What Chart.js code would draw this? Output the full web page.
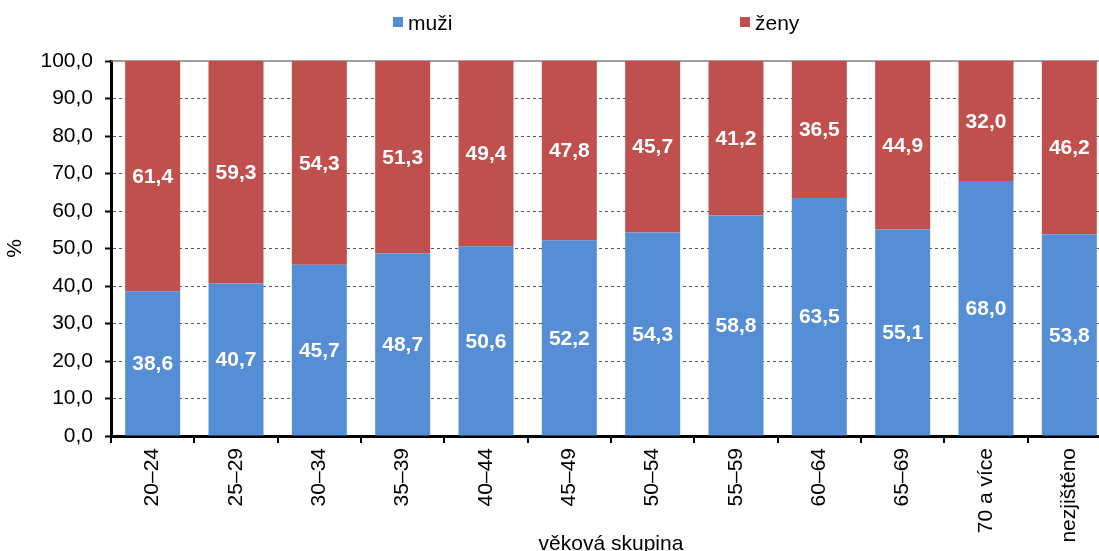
<!DOCTYPE html>
<html>
<head>
<meta charset="utf-8">
<script src="https://cdn.jsdelivr.net/npm/chart.js@4"></script>
<style>
  html, body { margin: 0; background: #fff; overflow: hidden; }
  /* graf je v originále vpravo oříznutý */
  #wrap { width: 1111px; height: 551px; position: relative; }
</style>
</head>
<body>
<div id="wrap"><canvas id="myChart"></canvas></div>
<script>
const categories = ['20–24', '25–29', '30–34', '35–39', '40–44', '45–49', '50–54', '55–59', '60–64', '65–69', '70 a více', 'nezjištěno'];
const muzi = [38.6, 40.7, 45.7, 48.7, 50.6, 52.2, 54.3, 58.8, 63.5, 55.1, 68.0, 53.8];
const zeny = [61.4, 59.3, 54.3, 51.3, 49.4, 47.8, 45.7, 41.2, 36.5, 44.9, 32.0, 46.2];
const yTicks = [0, 10, 20, 30, 40, 50, 60, 70, 80, 90, 100];

const blue = '#558ED5';
const red = '#C0504D';
const fontFam = '"Liberation Sans", Arial, sans-serif';

const fmt = v => Number(v).toFixed(1).replace('.', ',');

// popisky hodnot uprostřed segmentů
const valueLabels = {
  id: 'valueLabels',
  afterDatasetsDraw(chart) {
    const ctx = chart.ctx;
    ctx.save();
    ctx.fillStyle = '#fff';
    ctx.font = 'bold 21px ' + fontFam;
    ctx.textAlign = 'center';
    ctx.textBaseline = 'middle';
    chart.data.datasets.forEach((ds, i) => {
      chart.getDatasetMeta(i).data.forEach((bar, j) => {
        const p = bar.getProps(['x', 'y', 'base'], true);
        ctx.fillText(fmt(ds.data[j]), p.x, (p.y + p.base) / 2 + 1);
      });
    });
    ctx.restore();
  }
};

// plná čára na 100 % a legenda nahoře
const extras = {
  id: 'extras',
  beforeDatasetsDraw(chart) {
    const ctx = chart.ctx;
    const y = chart.scales.y.getPixelForValue(100);
    ctx.save();
    ctx.strokeStyle = '#808080';
    ctx.lineWidth = 1.5;
    ctx.beginPath();
    ctx.moveTo(chart.chartArea.left, y);
    ctx.lineTo(chart.chartArea.right, y);
    ctx.stroke();
    ctx.restore();
  },
  afterDraw(chart) {
    const ctx = chart.ctx;
    const items = [
      { text: 'muži', color: blue, x: 393 },
      { text: 'ženy', color: red, x: 740 }
    ];
    ctx.save();
    ctx.font = '21px ' + fontFam;
    ctx.textBaseline = 'alphabetic';
    items.forEach(it => {
      ctx.fillStyle = it.color;
      ctx.fillRect(it.x, 17, 10, 10);
      ctx.fillStyle = '#000';
      ctx.fillText(it.text, it.x + 15, 30);
    });
    ctx.restore();
  }
};

new Chart(document.getElementById('myChart'), {
  type: 'bar',
  data: {
    labels: categories,
    datasets: [
      { label: 'muži', data: muzi, backgroundColor: blue, barPercentage: 0.66, categoryPercentage: 1 },
      { label: 'ženy', data: zeny, backgroundColor: red, barPercentage: 0.66, categoryPercentage: 1 }
    ]
  },
  options: {
    responsive: true,
    maintainAspectRatio: false,
    animation: false,
    layout: { padding: { top: 61, left: 0, right: 0, bottom: 0 } },
    plugins: {
      legend: { display: false },
      tooltip: { enabled: false }
    },
    scales: {
      x: {
        stacked: true,
        afterFit(axis) { axis.height = 115; },
        grid: { offset: true, drawOnChartArea: false, color: '#000', lineWidth: 2, tickLength: 7 },
        border: { color: '#000', width: 3 },
        ticks: {
          color: '#000',
          font: { family: fontFam, size: 21 },
          minRotation: 90,
          maxRotation: 90,
          padding: 5
        },
        title: {
          display: true,
          text: 'věková skupina',
          color: '#000',
          font: { family: fontFam, size: 21 },
          padding: { top: 0, bottom: -6 }
        }
      },
      y: {
        stacked: true,
        min: 0,
        max: 100,
        afterFit(axis) { axis.width = 111; },
        afterBuildTicks(axis) { axis.ticks = yTicks.map(v => ({ value: v })); },
        grid: {
          color: ctx => (ctx.tick && (ctx.tick.value === 0 || ctx.tick.value === 100)) ? 'rgba(0,0,0,0)' : '#555',
          tickColor: '#000',
          lineWidth: 1,
          tickLength: 6,
          tickWidth: 2
        },
        border: { color: '#000', width: 3, dash: [3, 3] },
        ticks: {
          color: '#000',
          font: { family: fontFam, size: 21 },
          padding: 12,
          callback: v => fmt(v)
        },
        title: {
          display: true,
          text: '%',
          color: '#000',
          font: { family: fontFam, size: 21 },
          padding: { top: 3, bottom: 0 }
        }
      }
    }
  },
  plugins: [valueLabels, extras]
});
</script>
</body>
</html>
